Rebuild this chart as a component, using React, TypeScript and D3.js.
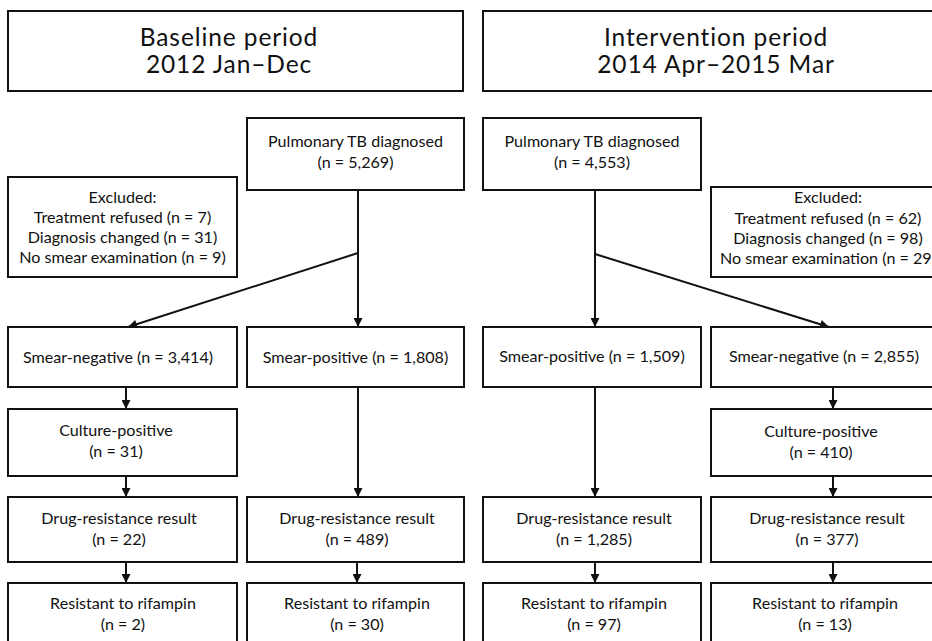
import React from 'react';
import * as d3 from 'd3';

// Flow counts, baseline period first, intervention period second
const periodNames = ['Baseline period', 'Intervention period'];
const periodRanges = ['2012 Jan\u2013Dec', '2014 Apr\u20132015 Mar'];
const diagnosed = [5269, 4553];
const treatmentRefused = [7, 62];
const diagnosisChanged = [31, 98];
const noSmearExam = [9, 29];
const smearNegative = [3414, 2855];
const smearPositive = [1808, 1509];
const culturePositive = [31, 410];
const drugResultNegBranch = [22, 377];
const drugResultPosBranch = [489, 1285];
const rifResistantNegBranch = [2, 13];
const rifResistantPosBranch = [30, 97];

const fmt = d3.format(',');
const n = (v: number) => `(n = ${fmt(v)})`;

const FONT = 'Lato, "Open Sans", sans-serif';

// column x extents: [neg-left, pos-left, pos-right, neg-right]
const cols = [
  { x0: 8, x1: 237 },
  { x0: 247, x1: 464 },
  { x0: 483, x1: 701 },
  { x0: 711, x1: 940 },
];
const rows = {
  title: [11, 91],
  diag: [118, 190],
  smear: [327, 387],
  culture: [409, 476],
  drug: [497, 562],
  resist: [583, 652],
};

function Box({ x0, x1, y0, y1, lines, baselines, size = 16.1, cx, spacing = 0 }: {
  x0: number; x1: number; y0: number; y1: number; lines: string[]; baselines: number[]; size?: number; cx?: number; spacing?: number;
}) {
  const mid = cx ?? (x0 + x1) / 2;
  return (
    <g>
      <rect x={x0} y={y0} width={x1 - x0} height={y1 - y0} fill="#fff" stroke="#111" strokeWidth={2} />
      {lines.map((t, i) => (
        <text key={i} x={mid} y={baselines[i]} textAnchor="middle" fontFamily={FONT} fontSize={size}
          letterSpacing={spacing} fill="#111">
          {t}
        </text>
      ))}
    </g>
  );
}

function Arrow({ x1, y1, x2, y2 }: { x1: number; y1: number; x2: number; y2: number }) {
  const line = d3.line();
  return <path d={line([[x1, y1], [x2, y2]]) ?? ''} stroke="#111" strokeWidth={2} fill="none" markerEnd="url(#head)" />;
}

export default function App() {
  const [L0, L1, R0, R1] = cols;
  return (
    <svg width={932} height={641} style={{ position: 'absolute', left: 0, top: 0, background: '#fff' }}>
      <defs>
        <marker id="head" viewBox="0 0 10 10" refX={10} refY={5} markerWidth={10} markerHeight={9}
          markerUnits="userSpaceOnUse" orient="auto">
          <path d="M0,0 L10,5 L0,10 Z" fill="#111" />
        </marker>
      </defs>

      {/* period titles */}
      <Box x0={8} x1={463} y0={rows.title[0]} y1={rows.title[1]} size={24.5} spacing={0.9} cx={229}
        lines={[periodNames[0], periodRanges[0]]} baselines={[46, 73]} />
      <Box x0={483} x1={945} y0={rows.title[0]} y1={rows.title[1]} size={24.5} spacing={0.9} cx={716}
        lines={[periodNames[1], periodRanges[1]]} baselines={[46, 73]} />

      {/* diagnosed */}
      <Box x0={L1.x0} x1={L1.x1} y0={rows.diag[0]} y1={rows.diag[1]}
        lines={['Pulmonary TB diagnosed', n(diagnosed[0])]} baselines={[147, 168]} />
      <Box x0={R0.x0} x1={R0.x1} y0={rows.diag[0]} y1={rows.diag[1]}
        lines={['Pulmonary TB diagnosed', n(diagnosed[1])]} baselines={[147, 168]} />

      {/* excluded */}
      <Box x0={L0.x0} x1={L0.x1} y0={177} y1={277}
        lines={['Excluded:', `Treatment refused ${n(treatmentRefused[0])}`, `Diagnosis changed ${n(diagnosisChanged[0])}`, `No smear examination ${n(noSmearExam[0])}`]}
        baselines={[203, 223, 243, 263]} />
      <Box x0={R1.x0} x1={R1.x1} y0={187} y1={277} cx={828}
        lines={['Excluded:', `Treatment refused ${n(treatmentRefused[1])}`, `Diagnosis changed ${n(diagnosisChanged[1])}`, `No smear examination ${n(noSmearExam[1])}`]}
        baselines={[203, 224, 244, 264]} />

      {/* arrows from diagnosed */}
      <Arrow x1={358} y1={rows.diag[1]} x2={358} y2={rows.smear[0]} />
      <Arrow x1={358} y1={253} x2={128} y2={rows.smear[0]} />
      <Arrow x1={595} y1={rows.diag[1]} x2={595} y2={rows.smear[0]} />
      <Arrow x1={595} y1={254} x2={829} y2={rows.smear[0]} />

      {/* smear rows */}
      <Box x0={L0.x0} x1={L0.x1} y0={rows.smear[0]} y1={rows.smear[1]} cx={118}
        lines={[`Smear-negative ${n(smearNegative[0])}`]} baselines={[363]} />
      <Box x0={L1.x0} x1={L1.x1} y0={rows.smear[0]} y1={rows.smear[1]}
        lines={[`Smear-positive ${n(smearPositive[0])}`]} baselines={[363]} />
      <Box x0={R0.x0} x1={R0.x1} y0={rows.smear[0]} y1={rows.smear[1]}
        lines={[`Smear-positive ${n(smearPositive[1])}`]} baselines={[362]} />
      <Box x0={R1.x0} x1={R1.x1} y0={rows.smear[0]} y1={rows.smear[1]} cx={824}
        lines={[`Smear-negative ${n(smearNegative[1])}`]} baselines={[362]} />

      {/* culture */}
      <Box x0={L0.x0} x1={L0.x1} y0={rows.culture[0]} y1={rows.culture[1]} cx={116}
        lines={['Culture-positive', n(culturePositive[0])]} baselines={[436, 457]} />
      <Box x0={R1.x0} x1={R1.x1} y0={rows.culture[0]} y1={rows.culture[1]} cx={821}
        lines={['Culture-positive', n(culturePositive[1])]} baselines={[437, 458]} />

      {/* drug resistance */}
      <Box x0={L0.x0} x1={L0.x1} y0={rows.drug[0]} y1={rows.drug[1]} cx={119}
        lines={['Drug-resistance result', n(drugResultNegBranch[0])]} baselines={[524, 545]} />
      <Box x0={L1.x0} x1={L1.x1} y0={rows.drug[0]} y1={rows.drug[1]} cx={357}
        lines={['Drug-resistance result', n(drugResultPosBranch[0])]} baselines={[524, 545]} />
      <Box x0={R0.x0} x1={R0.x1} y0={rows.drug[0]} y1={rows.drug[1]} cx={594}
        lines={['Drug-resistance result', n(drugResultPosBranch[1])]} baselines={[524, 545]} />
      <Box x0={R1.x0} x1={R1.x1} y0={rows.drug[0]} y1={rows.drug[1]} cx={827}
        lines={['Drug-resistance result', n(drugResultNegBranch[1])]} baselines={[524, 545]} />

      {/* resistant */}
      <Box x0={L0.x0} x1={L0.x1} y0={rows.resist[0]} y1={rows.resist[1]} cx={123}
        lines={['Resistant to rifampin', n(rifResistantNegBranch[0])]} baselines={[609, 630]} />
      <Box x0={L1.x0} x1={L1.x1} y0={rows.resist[0]} y1={rows.resist[1]} cx={357}
        lines={['Resistant to rifampin', n(rifResistantPosBranch[0])]} baselines={[609, 630]} />
      <Box x0={R0.x0} x1={R0.x1} y0={rows.resist[0]} y1={rows.resist[1]} cx={594}
        lines={['Resistant to rifampin', n(rifResistantPosBranch[1])]} baselines={[609, 630]} />
      <Box x0={R1.x0} x1={R1.x1} y0={rows.resist[0]} y1={rows.resist[1]} cx={825}
        lines={['Resistant to rifampin', n(rifResistantNegBranch[1])]} baselines={[609, 630]} />

      {/* vertical flow arrows */}
      <Arrow x1={126} y1={rows.smear[1]} x2={126} y2={rows.culture[0]} />
      <Arrow x1={126} y1={rows.culture[1]} x2={126} y2={rows.drug[0]} />
      <Arrow x1={126} y1={rows.drug[1]} x2={126} y2={rows.resist[0]} />
      <Arrow x1={358} y1={rows.smear[1]} x2={358} y2={rows.drug[0]} />
      <Arrow x1={357} y1={rows.drug[1]} x2={357} y2={rows.resist[0]} />
      <Arrow x1={595} y1={rows.smear[1]} x2={595} y2={rows.drug[0]} />
      <Arrow x1={595} y1={rows.drug[1]} x2={595} y2={rows.resist[0]} />
      <Arrow x1={833} y1={rows.smear[1]} x2={833} y2={rows.culture[0]} />
      <Arrow x1={833} y1={rows.culture[1]} x2={833} y2={rows.drug[0]} />
      <Arrow x1={833} y1={rows.drug[1]} x2={833} y2={rows.resist[0]} />
    </svg>
  );
}
